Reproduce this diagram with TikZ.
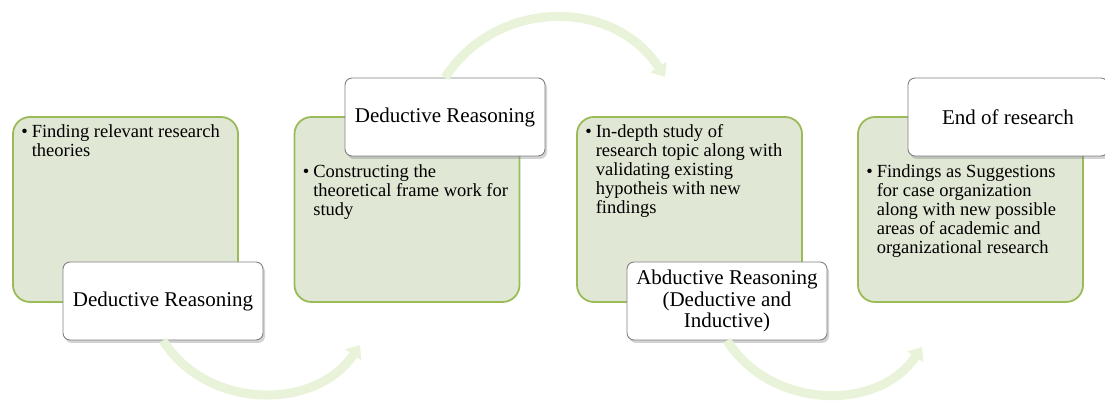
\documentclass[tikz,border=0pt]{standalone}
\usepackage{fontspec}
\setmainfont{Liberation Serif}
\usepackage{tikz}
\usetikzlibrary{arrows.meta,shadows}

\definecolor{stepfill}{RGB}{224,231,213}
\definecolor{stepline}{RGB}{155,187,89}
\definecolor{arcgreen}{RGB}{232,243,218}

\newcommand{\bulletlines}[1]{\makebox[10.5pt][l]{\textbullet}\begin{tabular}[t]{@{}l@{}}#1\end{tabular}}

\begin{document}
\begin{tikzpicture}[x=1pt,y=1pt,
  stepbox/.style={draw=stepline,fill=stepfill,line width=1.8pt,rounded corners=17pt,
    minimum width=225pt,minimum height=185pt},
  namebox/.style={draw=black!50,fill=white,line width=0.9pt,rounded corners=7pt,
    minimum width=200pt,minimum height=78pt,align=center,
    font=\fontsize{21}{21.5}\selectfont,
    drop shadow={shadow xshift=2pt,shadow yshift=-3pt,opacity=0.35}},
  pointtext/.style={inner sep=0pt,anchor=base west,font=\fontsize{18.5}{19.2}\selectfont},
  flowarc/.style={draw=arcgreen,line width=9pt,-{Triangle[width=19pt,length=12pt]}}]
\useasboundingbox (0,0) rectangle (1105,403);

% process steps
\node[stepbox] (theories) at (125.5,193.5) {};
\node[stepbox] (framework) at (407,193.5) {};
\node[stepbox] (indepth) at (689.5,193.5) {};
\node[stepbox] (findings) at (970.5,193.5) {};

\node[pointtext] (theoriestext) at ([xshift=9pt,yshift=-21pt]theories.north west)
  {\bulletlines{Finding relevant research\\theories}};
\node[pointtext] (frameworktext) at ([xshift=9pt,yshift=-61pt]framework.north west)
  {\bulletlines{Constructing the\\theoretical frame work for\\study}};
\node[pointtext] (indepthtext) at ([xshift=9pt,yshift=-21pt]indepth.north west)
  {\bulletlines{In-depth study of\\research topic along with\\validating existing\\hypotheis with new\\findings}};
\node[pointtext] (findingstext) at ([xshift=9pt,yshift=-61pt]findings.north west)
  {\bulletlines{Findings as Suggestions\\for case organization\\along with new possible\\areas of academic and\\organizational research}};

% reasoning labels
\node[namebox] (deduce1) at (163,102) {Deductive Reasoning};
\node[namebox] (deduce2) at (445,286) {Deductive Reasoning};
\node[namebox] (abduce) at (727,102) {Abductive Reasoning\\(Deductive and\\Inductive)};
\node[namebox] (finish) at (1008,286) {End of research};

% arrows between steps
\coordinate (tip1) at (360,58);
\coordinate (tip2) at (665,326);
\coordinate (tip3) at (922,56);
\draw[flowarc] (deduce1.south) to[out=-58,in=-124,looseness=1.05] (tip1);
\draw[flowarc] (deduce2.north) to[out=57,in=123,looseness=1.1] (tip2);
\draw[flowarc] (abduce.south) to[out=-58,in=-124,looseness=1.05] (tip3);
\end{tikzpicture}
\end{document}
